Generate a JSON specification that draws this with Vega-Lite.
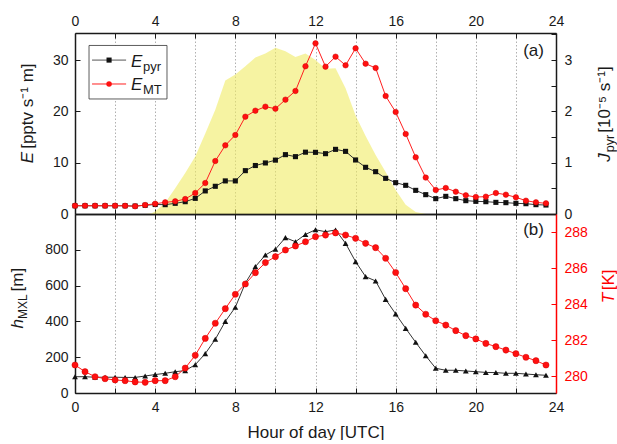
{
  "$schema": "https://vega.github.io/schema/vega-lite/v6.json",
  "background": "white",
  "padding": {"left": 8, "top": 14, "right": 0, "bottom": 0},
  "spacing": 0,
  "bounds": "flush",
  "config": {
    "font": "Liberation Sans",
    "view": {"stroke": null},
    "axis": {
      "labelFont": "Liberation Sans",
      "labelFontSize": 14,
      "labelColor": "#1a1a1a",
      "domainColor": "#1a1a1a",
      "domainWidth": 1.5,
      "tickColor": "#1a1a1a",
      "tickWidth": 1,
      "tickSize": -5,
      "labelPadding": 12,
      "grid": false,
      "labelFlush": false,
      "labelOverlap": false,
      "labelBound": false,
      "titleFont": "Liberation Sans",
      "titleFontSize": 17,
      "titleFontWeight": "normal",
      "titleColor": "#1a1a1a"
    }
  },
  "datasets": {
    "flux": [
      {"hour": 0, "Epyr": 1.6, "EMT": 1.62},
      {"hour": 0.5, "Epyr": 1.6, "EMT": 1.62},
      {"hour": 1, "Epyr": 1.6, "EMT": 1.62},
      {"hour": 1.5, "Epyr": 1.6, "EMT": 1.62},
      {"hour": 2, "Epyr": 1.6, "EMT": 1.62},
      {"hour": 2.5, "Epyr": 1.6, "EMT": 1.6},
      {"hour": 3, "Epyr": 1.55, "EMT": 1.5},
      {"hour": 3.5, "Epyr": 1.7, "EMT": 1.75},
      {"hour": 4, "Epyr": 1.85, "EMT": 2.0},
      {"hour": 4.5, "Epyr": 1.82, "EMT": 2.27},
      {"hour": 5, "Epyr": 2.08, "EMT": 2.47},
      {"hour": 5.5, "Epyr": 2.4, "EMT": 2.92},
      {"hour": 6, "Epyr": 3.05, "EMT": 4.09},
      {"hour": 6.5, "Epyr": 4.5, "EMT": 6.04},
      {"hour": 7, "Epyr": 5.4, "EMT": 10.33},
      {"hour": 7.5, "Epyr": 6.45, "EMT": 13.38},
      {"hour": 8, "Epyr": 6.45, "EMT": 15.4},
      {"hour": 8.5, "Epyr": 8.45, "EMT": 18.97},
      {"hour": 9, "Epyr": 9.45, "EMT": 20.14},
      {"hour": 9.5, "Epyr": 9.95, "EMT": 20.92},
      {"hour": 10, "Epyr": 10.5, "EMT": 20.53},
      {"hour": 10.5, "Epyr": 11.57, "EMT": 22.29},
      {"hour": 11, "Epyr": 11.18, "EMT": 23.98},
      {"hour": 11.5, "Epyr": 12.05, "EMT": 28.8},
      {"hour": 12, "Epyr": 12.02, "EMT": 33.26},
      {"hour": 12.5, "Epyr": 11.76, "EMT": 28.72},
      {"hour": 13, "Epyr": 12.6, "EMT": 30.67},
      {"hour": 13.5, "Epyr": 12.21, "EMT": 28.98},
      {"hour": 14, "Epyr": 10.53, "EMT": 32.29},
      {"hour": 14.5, "Epyr": 9.1, "EMT": 29.3},
      {"hour": 15, "Epyr": 8.25, "EMT": 28.46},
      {"hour": 15.5, "Epyr": 6.95, "EMT": 23.0},
      {"hour": 16, "Epyr": 6.11, "EMT": 19.88},
      {"hour": 16.5, "Epyr": 5.59, "EMT": 15.6},
      {"hour": 17, "Epyr": 4.61, "EMT": 11.05},
      {"hour": 17.5, "Epyr": 3.77, "EMT": 7.1},
      {"hour": 18, "Epyr": 2.99, "EMT": 4.68},
      {"hour": 18.5, "Epyr": 3.44, "EMT": 5.07},
      {"hour": 19, "Epyr": 2.99, "EMT": 4.35},
      {"hour": 19.5, "Epyr": 2.6, "EMT": 3.64},
      {"hour": 20, "Epyr": 2.47, "EMT": 3.31},
      {"hour": 20.5, "Epyr": 2.4, "EMT": 3.38},
      {"hour": 21, "Epyr": 2.27, "EMT": 4.09},
      {"hour": 21.5, "Epyr": 2.21, "EMT": 3.77},
      {"hour": 22, "Epyr": 2.08, "EMT": 3.25},
      {"hour": 22.5, "Epyr": 2.01, "EMT": 2.6},
      {"hour": 23, "Epyr": 1.82, "EMT": 2.27},
      {"hour": 23.5, "Epyr": 1.75, "EMT": 2.08}
    ],
    "jpyr": [
      {"hour": 0, "J": 0},
      {"hour": 3.5, "J": 0},
      {"hour": 3.8, "J": 0.01},
      {"hour": 4, "J": 0.05},
      {"hour": 4.5, "J": 0.22},
      {"hour": 5, "J": 0.5},
      {"hour": 5.5, "J": 0.8},
      {"hour": 6, "J": 1.12},
      {"hour": 6.5, "J": 1.57},
      {"hour": 7, "J": 2.03},
      {"hour": 7.5, "J": 2.6},
      {"hour": 8, "J": 2.72},
      {"hour": 8.5, "J": 2.88},
      {"hour": 9, "J": 3.05},
      {"hour": 9.5, "J": 3.13},
      {"hour": 10, "J": 3.24},
      {"hour": 10.5, "J": 3.17},
      {"hour": 11, "J": 3.06},
      {"hour": 11.5, "J": 3.13},
      {"hour": 12, "J": 3.0},
      {"hour": 12.5, "J": 2.83},
      {"hour": 13, "J": 2.84},
      {"hour": 13.5, "J": 2.45},
      {"hour": 14, "J": 1.92},
      {"hour": 14.5, "J": 1.52},
      {"hour": 15, "J": 1.15},
      {"hour": 15.5, "J": 0.82},
      {"hour": 16, "J": 0.47},
      {"hour": 16.5, "J": 0.18},
      {"hour": 17, "J": 0.04},
      {"hour": 17.5, "J": 0},
      {"hour": 24, "J": 0}
    ],
    "mxl": [
      {"hour": 0, "hMXL": 91, "T": 280.61},
      {"hour": 0.5, "hMXL": 91, "T": 280.24},
      {"hour": 1, "hMXL": 88, "T": 279.96},
      {"hour": 1.5, "hMXL": 88, "T": 279.85},
      {"hour": 2, "hMXL": 88, "T": 279.78},
      {"hour": 2.5, "hMXL": 87, "T": 279.74},
      {"hour": 3, "hMXL": 87, "T": 279.67},
      {"hour": 3.5, "hMXL": 95, "T": 279.65},
      {"hour": 4, "hMXL": 103, "T": 279.74},
      {"hour": 4.5, "hMXL": 110, "T": 279.74},
      {"hour": 5, "hMXL": 119, "T": 279.96},
      {"hour": 5.5, "hMXL": 125, "T": 280.44},
      {"hour": 6, "hMXL": 158, "T": 281.15},
      {"hour": 6.5, "hMXL": 220, "T": 282.09},
      {"hour": 7, "hMXL": 300, "T": 282.93},
      {"hour": 7.5, "hMXL": 400, "T": 283.74},
      {"hour": 8, "hMXL": 479, "T": 284.54},
      {"hour": 8.5, "hMXL": 614, "T": 285.11},
      {"hour": 9, "hMXL": 706, "T": 285.74},
      {"hour": 9.5, "hMXL": 771, "T": 286.3},
      {"hour": 10, "hMXL": 803, "T": 286.63},
      {"hour": 10.5, "hMXL": 868, "T": 287.0},
      {"hour": 11, "hMXL": 845, "T": 287.22},
      {"hour": 11.5, "hMXL": 886, "T": 287.46},
      {"hour": 12, "hMXL": 912, "T": 287.74},
      {"hour": 12.5, "hMXL": 901, "T": 287.83},
      {"hour": 13, "hMXL": 911, "T": 287.95},
      {"hour": 13.5, "hMXL": 836, "T": 287.83},
      {"hour": 14, "hMXL": 734, "T": 287.65},
      {"hour": 14.5, "hMXL": 650, "T": 287.37},
      {"hour": 15, "hMXL": 626, "T": 287.13},
      {"hour": 15.5, "hMXL": 523, "T": 286.54},
      {"hour": 16, "hMXL": 442, "T": 285.75},
      {"hour": 16.5, "hMXL": 361, "T": 284.85},
      {"hour": 17, "hMXL": 283, "T": 283.94},
      {"hour": 17.5, "hMXL": 208, "T": 283.43},
      {"hour": 18, "hMXL": 138, "T": 283.07},
      {"hour": 18.5, "hMXL": 127, "T": 282.83},
      {"hour": 19, "hMXL": 127, "T": 282.52},
      {"hour": 19.5, "hMXL": 123, "T": 282.24},
      {"hour": 20, "hMXL": 119, "T": 282.06},
      {"hour": 20.5, "hMXL": 115, "T": 281.81},
      {"hour": 21, "hMXL": 114, "T": 281.63},
      {"hour": 21.5, "hMXL": 110, "T": 281.44},
      {"hour": 22, "hMXL": 110, "T": 281.24},
      {"hour": 22.5, "hMXL": 106, "T": 281.04},
      {"hour": 23, "hMXL": 102, "T": 280.85},
      {"hour": 23.5, "hMXL": 99, "T": 280.61}
    ]
  },
  "vconcat": [
    {
      "width": 481,
      "height": 181,
      "resolve": {"scale": {"y": "independent"}, "axis": {"x": "independent", "y": "independent"}},
      "layer": [
        {
          "data": {"name": "jpyr"},
          "mark": {"type": "area", "color": "#f0eb64", "opacity": 0.6},
          "encoding": {
            "x": {"field": "hour", "type": "quantitative",
                  "scale": {"domain": [0, 24], "nice": false, "zero": false},
                  "axis": {"orient": "top", "title": null, "values": [0, 2, 4, 6, 8, 10, 12, 14, 16, 18, 20, 22, 24],
                           "labelExpr": "datum.value % 4 === 0 ? datum.label : ''", "labelPadding": 10, "labelOverlap": false,
                           "grid": true, "gridDash": [1.5, 2], "gridColor": "#b0b0b0", "gridWidth": 1}},
            "y": {"field": "J", "type": "quantitative",
                  "scale": {"domain": [0, 3.528], "nice": false},
                  "axis": {"orient": "right", "title": null, "values": [0, 0.5, 1, 1.5, 2, 2.5, 3, 3.5], "labelOverlap": false,
                           "labelExpr": "datum.value % 1 === 0 ? format(datum.value, 'd') : ''", "labelPadding": 13}}
          }
        },
        {
          "layer": [
            {
              "data": {"name": "flux"},
              "mark": {"type": "line", "color": "#333333", "strokeWidth": 1,
                       "point": {"shape": "square", "filled": true, "size": 26, "color": "#111111"}},
              "encoding": {
                "x": {"field": "hour", "type": "quantitative",
                      "scale": {"domain": [0, 24], "nice": false, "zero": false},
                      "axis": {"orient": "bottom", "title": null, "labels": false,
                               "values": [0, 2, 4, 6, 8, 10, 12, 14, 16, 18, 20, 22, 24]}},
                "y": {"field": "Epyr", "type": "quantitative",
                      "scale": {"domain": [0, 35.28], "nice": false},
                      "axis": {"orient": "left", "title": null, "values": [0, 5, 10, 15, 20, 25, 30, 35], "labelOverlap": false,
                               "labelExpr": "datum.value % 10 === 0 ? datum.label : ''"}}
              }
            },
            {
              "data": {"name": "flux"},
              "mark": {"type": "line", "color": "#ff2020", "strokeWidth": 1,
                       "point": {"shape": "circle", "filled": true, "size": 30, "color": "#ff1010", "stroke": "#d00000", "strokeWidth": 0.5}},
              "encoding": {
                "x": {"field": "hour", "type": "quantitative", "title": null},
                "y": {"field": "EMT", "type": "quantitative", "title": null}
              }
            },
            {
              "data": {"values": [{}]},
              "mark": {"type": "rect", "fill": "white", "stroke": "#333333", "strokeWidth": 0.8},
              "encoding": {
                "x": {"datum": 0.7, "type": "quantitative"},
                "x2": {"datum": 4.59},
                "y": {"datum": 32.85, "type": "quantitative"},
                "y2": {"datum": 22.42}
              }
            },
            {
              "data": {"values": [{}]},
              "mark": {"type": "rule", "color": "#555555", "strokeWidth": 1},
              "encoding": {
                "x": {"datum": 0.85, "type": "quantitative"},
                "x2": {"datum": 2.55},
                "y": {"datum": 30.0, "type": "quantitative"}
              }
            },
            {
              "data": {"values": [{}]},
              "mark": {"type": "point", "shape": "square", "filled": true, "size": 26, "color": "#111111", "opacity": 1},
              "encoding": {
                "x": {"datum": 1.7, "type": "quantitative"},
                "y": {"datum": 30.0, "type": "quantitative"}
              }
            },
            {
              "data": {"values": [{}]},
              "mark": {"type": "rule", "color": "#ff2020", "strokeWidth": 1},
              "encoding": {
                "x": {"datum": 0.85, "type": "quantitative"},
                "x2": {"datum": 2.55},
                "y": {"datum": 25.34, "type": "quantitative"}
              }
            },
            {
              "data": {"values": [{}]},
              "mark": {"type": "point", "shape": "circle", "filled": true, "size": 30, "color": "#ff1010", "opacity": 1},
              "encoding": {
                "x": {"datum": 1.7, "type": "quantitative"},
                "y": {"datum": 25.34, "type": "quantitative"}
              }
            },
            {
              "data": {"values": [{}]},
              "mark": {"type": "text", "align": "left", "baseline": "alphabetic", "fontSize": 17, "fontStyle": "italic", "color": "#1a1a1a"},
              "encoding": {
                "x": {"datum": 2.79, "type": "quantitative"},
                "y": {"datum": 28.65, "type": "quantitative"},
                "text": {"value": "E"}
              }
            },
            {
              "data": {"values": [{}]},
              "mark": {"type": "text", "align": "left", "baseline": "alphabetic", "fontSize": 13, "dx": 12, "dy": 4, "color": "#1a1a1a"},
              "encoding": {
                "x": {"datum": 2.79, "type": "quantitative"},
                "y": {"datum": 28.65, "type": "quantitative"},
                "text": {"value": "pyr"}
              }
            },
            {
              "data": {"values": [{}]},
              "mark": {"type": "text", "align": "left", "baseline": "alphabetic", "fontSize": 17, "fontStyle": "italic", "color": "#1a1a1a"},
              "encoding": {
                "x": {"datum": 2.79, "type": "quantitative"},
                "y": {"datum": 24.17, "type": "quantitative"},
                "text": {"value": "E"}
              }
            },
            {
              "data": {"values": [{}]},
              "mark": {"type": "text", "align": "left", "baseline": "alphabetic", "fontSize": 13, "dx": 12, "dy": 4, "color": "#1a1a1a"},
              "encoding": {
                "x": {"datum": 2.79, "type": "quantitative"},
                "y": {"datum": 24.17, "type": "quantitative"},
                "text": {"value": "MT"}
              }
            },
            {
              "data": {"values": [{}]},
              "mark": {"type": "text", "angle": 270, "align": "left", "baseline": "alphabetic", "fontSize": 17, "fontStyle": "italic", "color": "#1a1a1a"},
              "encoding": {
                "x": {"datum": -2.11, "type": "quantitative"},
                "y": {"datum": 9.88, "type": "quantitative"},
                "text": {"value": "E"}
              }
            },
            {
              "data": {"values": [{}]},
              "mark": {"type": "text", "angle": 270, "align": "left", "baseline": "alphabetic", "fontSize": 17, "dx": 14.5, "color": "#1a1a1a"},
              "encoding": {
                "x": {"datum": -2.11, "type": "quantitative"},
                "y": {"datum": 9.88, "type": "quantitative"},
                "text": {"value": "[pptv s⁻¹ m]"}
              }
            },
            {
              "data": {"values": [{}]},
              "mark": {"type": "text", "angle": 270, "align": "left", "baseline": "alphabetic", "fontSize": 17, "fontStyle": "italic", "color": "#1a1a1a"},
              "encoding": {
                "x": {"datum": 26.7, "type": "quantitative"},
                "y": {"datum": 10.2, "type": "quantitative"},
                "text": {"value": "J"}
              }
            },
            {
              "data": {"values": [{}]},
              "mark": {"type": "text", "angle": 270, "align": "left", "baseline": "alphabetic", "fontSize": 12.5, "dx": 9.5, "dy": 4, "color": "#1a1a1a"},
              "encoding": {
                "x": {"datum": 26.7, "type": "quantitative"},
                "y": {"datum": 10.2, "type": "quantitative"},
                "text": {"value": "pyr"}
              }
            },
            {
              "data": {"values": [{}]},
              "mark": {"type": "text", "angle": 270, "align": "left", "baseline": "alphabetic", "fontSize": 17, "dx": 29, "color": "#1a1a1a"},
              "encoding": {
                "x": {"datum": 26.7, "type": "quantitative"},
                "y": {"datum": 10.2, "type": "quantitative"},
                "text": {"value": "[10⁻⁵ s⁻¹]"}
              }
            },
            {
              "data": {"values": [{}]},
              "mark": {"type": "text", "align": "right", "baseline": "alphabetic", "fontSize": 17, "color": "#1a1a1a"},
              "encoding": {
                "x": {"datum": 23.4, "type": "quantitative"},
                "y": {"datum": 30.8, "type": "quantitative"},
                "text": {"value": "(a)"}
              }
            }
          ]
        }
      ]
    },
    {
      "width": 481,
      "height": 179,
      "resolve": {"scale": {"y": "independent"}, "axis": {"x": "independent", "y": "independent"}},
      "layer": [
        {
          "layer": [
            {
              "data": {"name": "mxl"},
              "mark": {"type": "line", "color": "#333333", "strokeWidth": 1,
                       "point": {"shape": "triangle-up", "filled": true, "size": 34, "color": "#111111"}},
              "encoding": {
                "x": {"field": "hour", "type": "quantitative",
                      "scale": {"domain": [0, 24], "nice": false, "zero": false},
                      "axis": {"orient": "bottom", "title": "Hour of day [UTC]", "titlePadding": 10, "labelOverlap": false,
                               "values": [0, 2, 4, 6, 8, 10, 12, 14, 16, 18, 20, 22, 24],
                               "labelExpr": "datum.value % 4 === 0 ? datum.label : ''",
                               "grid": true, "gridDash": [1.5, 2], "gridColor": "#b0b0b0", "gridWidth": 1}},
                "y": {"field": "hMXL", "type": "quantitative",
                      "scale": {"domain": [0, 1000], "nice": false},
                      "axis": {"orient": "left", "title": null, "labelOverlap": false,
                               "values": [0, 200, 400, 600, 800]}}
              }
            },
            {
              "data": {"values": [{}]},
              "mark": {"type": "text", "angle": 270, "align": "left", "baseline": "alphabetic", "fontSize": 17, "fontStyle": "italic", "color": "#1a1a1a"},
              "encoding": {
                "x": {"datum": -2.61, "type": "quantitative"},
                "y": {"datum": 361, "type": "quantitative"},
                "text": {"value": "h"}
              }
            },
            {
              "data": {"values": [{}]},
              "mark": {"type": "text", "angle": 270, "align": "left", "baseline": "alphabetic", "fontSize": 12, "dx": 9.5, "dy": 4, "color": "#1a1a1a"},
              "encoding": {
                "x": {"datum": -2.61, "type": "quantitative"},
                "y": {"datum": 361, "type": "quantitative"},
                "text": {"value": "MXL"}
              }
            },
            {
              "data": {"values": [{}]},
              "mark": {"type": "text", "angle": 270, "align": "left", "baseline": "alphabetic", "fontSize": 17, "dx": 37, "color": "#1a1a1a"},
              "encoding": {
                "x": {"datum": -2.61, "type": "quantitative"},
                "y": {"datum": 361, "type": "quantitative"},
                "text": {"value": "[m]"}
              }
            },
            {
              "data": {"values": [{}]},
              "mark": {"type": "text", "align": "right", "baseline": "alphabetic", "fontSize": 17, "color": "#1a1a1a"},
              "encoding": {
                "x": {"datum": 23.4, "type": "quantitative"},
                "y": {"datum": 883, "type": "quantitative"},
                "text": {"value": "(b)"}
              }
            }
          ]
        },
        {
          "layer": [
            {
              "data": {"name": "mxl"},
              "mark": {"type": "line", "color": "#ff2020", "strokeWidth": 1,
                       "point": {"shape": "circle", "filled": true, "size": 38, "color": "#ff1010", "stroke": "#d00000", "strokeWidth": 0.5}},
              "encoding": {
                "x": {"field": "hour", "type": "quantitative",
                      "scale": {"domain": [0, 24], "nice": false, "zero": false},
                      "axis": {"orient": "top", "title": null, "labels": false,
                               "values": [0, 2, 4, 6, 8, 10, 12, 14, 16, 18, 20, 22, 24]}},
                "y": {"field": "T", "type": "quantitative",
                      "scale": {"domain": [279.056, 289], "nice": false, "zero": false},
                      "axis": {"orient": "right", "title": null, "values": [280, 281, 282, 283, 284, 285, 286, 287, 288, 289],
                               "labelExpr": "datum.value % 2 === 0 ? datum.label : ''", "labelPadding": 13, "labelOverlap": false,
                               "labelColor": "#ff0000", "domainColor": "#ff0000", "tickColor": "#ff0000"}}
              }
            },
            {
              "data": {"values": [{}]},
              "mark": {"type": "text", "angle": 270, "align": "left", "baseline": "alphabetic", "fontSize": 17, "fontStyle": "italic", "color": "#ff0000"},
              "encoding": {
                "x": {"datum": 26.9, "type": "quantitative"},
                "y": {"datum": 284.04, "type": "quantitative"},
                "text": {"value": "T"}
              }
            },
            {
              "data": {"values": [{}]},
              "mark": {"type": "text", "angle": 270, "align": "left", "baseline": "alphabetic", "fontSize": 17, "dx": 13, "color": "#ff0000"},
              "encoding": {
                "x": {"datum": 26.9, "type": "quantitative"},
                "y": {"datum": 284.04, "type": "quantitative"},
                "text": {"value": "[K]"}
              }
            }
          ]
        }
      ]
    }
  ]
}
